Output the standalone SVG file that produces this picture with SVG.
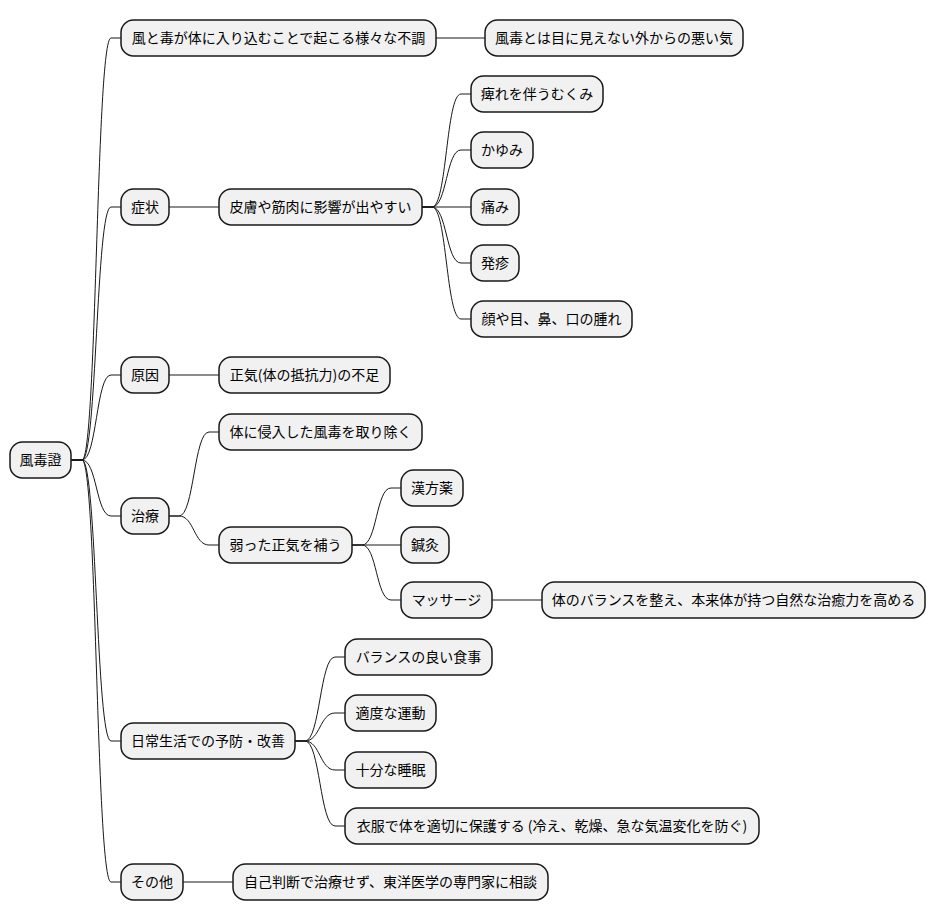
<svg xmlns="http://www.w3.org/2000/svg" width="936" height="921" viewBox="0 0 936 921">
<style>
.n rect{fill:#F1F1F1;stroke:#181818;stroke-width:1.5}
.n text{font-family:"Noto Sans CJK JP","Noto Sans",sans-serif;font-size:14px;fill:#000;text-anchor:middle}
#edges path{fill:none;stroke:#181818;stroke-width:1}
</style>
<rect width="936" height="921" fill="#FFFFFF"/>
<g id="edges">
<path d="M71,460 L82,460 C97,460 96,38 111,38 L121,38"/>
<path d="M71,460 L82,460 C97,460 96,207 111,207 L121,207"/>
<path d="M71,460 L82,460 C97,460 96,375 111,375 L121,375"/>
<path d="M71,460 L82,460 C97,460 96,516 111,516 L121,516"/>
<path d="M71,460 L82,460 C97,460 96,741 111,741 L121,741"/>
<path d="M71,460 L82,460 C97,460 96,882 111,882 L121,882"/>
<path d="M436,38 L485,38"/>
<path d="M169,207 L219,207"/>
<path d="M422,207 L432,207 C447,207 446,94 461,94 L471,94"/>
<path d="M422,207 L432,207 C447,207 446,150 461,150 L471,150"/>
<path d="M422,207 L471,207"/>
<path d="M422,207 L432,207 C447,207 446,263 461,263 L471,263"/>
<path d="M422,207 L432,207 C447,207 446,319 461,319 L471,319"/>
<path d="M169,375 L219,375"/>
<path d="M169,516 L179,516 C194,516 194,432 209,432 L219,432"/>
<path d="M169,516 L179,516 C194,516 194,545 209,545 L219,545"/>
<path d="M352,545 L362,545 C377,545 376,488 391,488 L401,488"/>
<path d="M352,545 L401,545"/>
<path d="M352,545 L362,545 C377,545 376,600 391,600 L401,600"/>
<path d="M492,600 L542,600"/>
<path d="M295,741 L305,741 C320,741 320,657 335,657 L345,657"/>
<path d="M295,741 L305,741 C320,741 320,713 335,713 L345,713"/>
<path d="M295,741 L305,741 C320,741 320,770 335,770 L345,770"/>
<path d="M295,741 L305,741 C320,741 320,826 335,826 L345,826"/>
<path d="M183,882 L233,882"/>
</g>
<g id="root" class="n"><rect x="10" y="442" width="61" height="36" rx="12.5"/><text x="40.5" y="465">風毒證</text></g>
<g id="n1" class="n"><rect x="121" y="20" width="315" height="36" rx="12.5"/><text x="278.5" y="43">風と毒が体に入り込むことで起こる様々な不調</text></g>
<g id="n1a" class="n"><rect x="485" y="20" width="258" height="36" rx="12.5"/><text x="614" y="43">風毒とは目に見えない外からの悪い気</text></g>
<g id="n2" class="n"><rect x="121" y="189" width="48" height="36" rx="12.5"/><text x="145" y="212">症状</text></g>
<g id="n2a" class="n"><rect x="219" y="189" width="203" height="36" rx="12.5"/><text x="320.5" y="212">皮膚や筋肉に影響が出やすい</text></g>
<g id="n2a1" class="n"><rect x="471" y="76" width="132" height="36" rx="12.5"/><text x="537" y="99">痺れを伴うむくみ</text></g>
<g id="n2a2" class="n"><rect x="471" y="132" width="62" height="36" rx="12.5"/><text x="502" y="155">かゆみ</text></g>
<g id="n2a3" class="n"><rect x="471" y="189" width="48" height="36" rx="12.5"/><text x="495" y="212">痛み</text></g>
<g id="n2a4" class="n"><rect x="471" y="245" width="48" height="36" rx="12.5"/><text x="495" y="268">発疹</text></g>
<g id="n2a5" class="n"><rect x="471" y="301" width="161" height="36" rx="12.5"/><text x="551.5" y="324">顔や目、鼻、口の腫れ</text></g>
<g id="n3" class="n"><rect x="121" y="357" width="48" height="36" rx="12.5"/><text x="145" y="380">原因</text></g>
<g id="n3a" class="n"><rect x="219" y="357" width="171" height="36" rx="12.5"/><text x="304.5" y="380">正気(体の抵抗力)の不足</text></g>
<g id="n4" class="n"><rect x="121" y="498" width="48" height="36" rx="12.5"/><text x="145" y="521">治療</text></g>
<g id="n4a" class="n"><rect x="219" y="414" width="203" height="36" rx="12.5"/><text x="320.5" y="437">体に侵入した風毒を取り除く</text></g>
<g id="n4b" class="n"><rect x="219" y="527" width="133" height="36" rx="12.5"/><text x="285.5" y="550">弱った正気を補う</text></g>
<g id="n4b1" class="n"><rect x="401" y="470" width="62" height="36" rx="12.5"/><text x="432" y="493">漢方薬</text></g>
<g id="n4b2" class="n"><rect x="401" y="527" width="48" height="36" rx="12.5"/><text x="425" y="550">鍼灸</text></g>
<g id="n4b3" class="n"><rect x="401" y="582" width="91" height="36" rx="12.5"/><text x="446.5" y="605">マッサージ</text></g>
<g id="n4b3a" class="n"><rect x="542" y="582" width="383" height="36" rx="12.5"/><text x="733.5" y="605">体のバランスを整え、本来体が持つ自然な治癒力を高める</text></g>
<g id="n5" class="n"><rect x="121" y="723" width="174" height="36" rx="12.5"/><text x="208" y="746">日常生活での予防・改善</text></g>
<g id="n5a" class="n"><rect x="345" y="639" width="147" height="36" rx="12.5"/><text x="418.5" y="662">バランスの良い食事</text></g>
<g id="n5b" class="n"><rect x="345" y="695" width="91" height="36" rx="12.5"/><text x="390.5" y="718">適度な運動</text></g>
<g id="n5c" class="n"><rect x="345" y="752" width="91" height="36" rx="12.5"/><text x="390.5" y="775">十分な睡眠</text></g>
<g id="n5d" class="n"><rect x="345" y="808" width="414" height="36" rx="12.5"/><text x="552" y="831">衣服で体を適切に保護する (冷え、乾燥、急な気温変化を防ぐ)</text></g>
<g id="n6" class="n"><rect x="121" y="864" width="62" height="36" rx="12.5"/><text x="152" y="887">その他</text></g>
<g id="n6a" class="n"><rect x="233" y="864" width="315" height="36" rx="12.5"/><text x="390.5" y="887">自己判断で治療せず、東洋医学の専門家に相談</text></g>
</svg>
